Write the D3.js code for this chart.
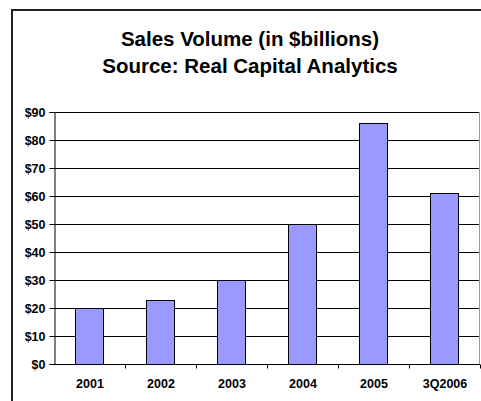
<!DOCTYPE html>
<html>
<head>
<meta charset="utf-8">
<script src="https://cdn.jsdelivr.net/npm/d3@7/dist/d3.min.js"></script>
<style>
  html, body { margin: 0; padding: 0; background: #fff; }
  svg { display: block; }
  text { font-family: "Liberation Sans", Arial, sans-serif; font-weight: bold; fill: #000; }
</style>
</head>
<body>
<div id="chart"></div>
<script>
// Sales volume by year, in billions of dollars
const categories = ["2001", "2002", "2003", "2004", "2005", "3Q2006"];
const salesVolume = [20, 23, 30, 50, 86, 61];
const yTicks = [0, 10, 20, 30, 40, 50, 60, 70, 80, 90];
const titleLines = ["Sales Volume (in $billions)", "Source: Real Capital Analytics"];

const W = 481, H = 401;
const plot = { left: 54, right: 480, top: 112, bottom: 364 };

const svg = d3.select("#chart").append("svg")
  .attr("width", W).attr("height", H);

// Outer chart frame (runs off the right and bottom edges)
svg.append("path")
  .attr("d", `M12,${H + 5} L12,10 L${W + 5},10`)
  .attr("fill", "none")
  .attr("stroke", "#222")
  .attr("stroke-width", 2);

// Title
svg.append("g").selectAll("text")
  .data(titleLines)
  .join("text")
  .attr("x", 250)
  .attr("y", (d, i) => 46 + i * 27)
  .attr("text-anchor", "middle")
  .attr("font-size", 20.5)
  .text(d => d);

const x = d3.scaleBand()
  .domain(categories)
  .range([plot.left, plot.right])
  .paddingInner(0.6)
  .paddingOuter(0.3);

const xBand = d3.scaleBand()
  .domain(categories)
  .range([plot.left, plot.right]);

const y = d3.scaleLinear()
  .domain([0, 90])
  .range([plot.bottom, plot.top]);

// Horizontal gridlines
svg.append("g")
  .selectAll("line")
  .data(yTicks.filter(d => d > 0))
  .join("line")
  .attr("x1", plot.left).attr("x2", plot.right)
  .attr("y1", d => Math.round(y(d)) + 0.5)
  .attr("y2", d => Math.round(y(d)) + 0.5)
  .attr("stroke", "#000")
  .attr("stroke-width", 1);

// Right edge of the plot area
svg.append("line")
  .attr("x1", plot.right - 0.5).attr("x2", plot.right - 0.5)
  .attr("y1", plot.top).attr("y2", plot.bottom)
  .attr("stroke", "#999");

// Bars
svg.append("g")
  .selectAll("rect")
  .data(categories.map((c, i) => ({ c, v: salesVolume[i] })))
  .join("rect")
  .attr("x", d => Math.round(x(d.c)) + 0.5)
  .attr("y", d => Math.round(y(d.v)) + 0.5)
  .attr("width", Math.round(x.bandwidth()))
  .attr("height", d => Math.round(y(0)) - Math.round(y(d.v)))
  .attr("fill", "#9999FF")
  .attr("stroke", "#000")
  .attr("stroke-width", 1);

// Y axis
const yAxis = svg.append("g")
  .attr("transform", `translate(${plot.left + 0.5},0)`)
  .call(d3.axisLeft(y).tickValues(yTicks).tickFormat(d => "$" + d).tickSize(5).tickPadding(4));
yAxis.attr("font-family", null).attr("font-size", null);
yAxis.selectAll("text").attr("font-size", 12.5);
yAxis.selectAll("line, path").attr("stroke", "#000");

// X axis: ticks sit at the category boundaries
const xAxis = svg.append("g")
  .attr("transform", `translate(0,${Math.round(y(0)) + 0.5})`);
xAxis.append("line")
  .attr("x1", plot.left).attr("x2", plot.right)
  .attr("stroke", "#000");
xAxis.selectAll("line.tick")
  .data(categories)
  .join("line")
  .attr("class", "tick")
  .attr("x1", d => Math.round(xBand(d) + xBand.bandwidth()) + 0.5)
  .attr("x2", d => Math.round(xBand(d) + xBand.bandwidth()) + 0.5)
  .attr("y1", 0).attr("y2", 4)
  .attr("stroke", "#000");
xAxis.selectAll("text")
  .data(categories)
  .join("text")
  .attr("x", d => xBand(d) + xBand.bandwidth() / 2 + 0.5)
  .attr("y", 23)
  .attr("text-anchor", "middle")
  .attr("font-size", 12.5)
  .text(d => d);
</script>
</body>
</html>
